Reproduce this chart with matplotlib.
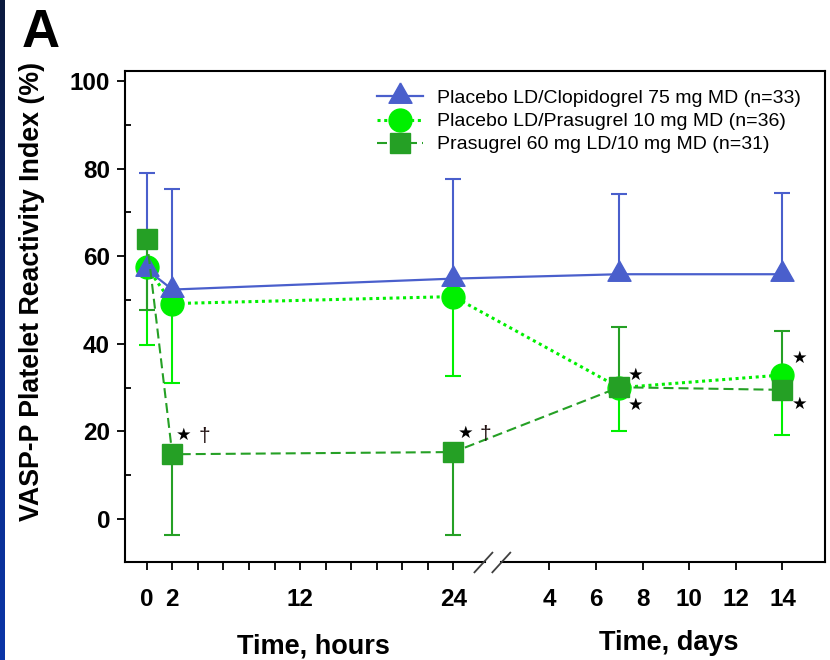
import numpy as np
import matplotlib
matplotlib.use("Agg")
import matplotlib.pyplot as plt
from matplotlib.colors import LinearSegmentedColormap

plt.rcParams['font.family'] = ['Liberation Sans', 'DejaVu Sans']

# ---------------- data ----------------
hour_times = [0, 2, 24]
day_times = [7, 14]

clop_mean = [57.0, 52.4, 54.9, 55.9, 55.9]
clop_upper = [79.1, 75.3, 77.6, 74.2, 74.4]

pras10_mean = [57.6, 49.2, 50.8, 30.0, 32.9]
pras10_lower = [39.7, 31.0, 32.6, 20.1, 19.3]

pras60_mean = [63.9, 14.8, 15.3, 30.1, 29.5]
pras60_bar_end = [47.7, -3.7, -3.7, 43.9, 42.9]

hour_ticks = list(range(0, 25, 2))
hour_labelled = [0, 2, 12, 24]
day_ticks = [4, 6, 8, 10, 12, 14]
y_major = [0, 20, 40, 60, 80, 100]
y_minor = [10, 30, 50, 70, 90]

legend_labels = ["Placebo LD/Clopidogrel 75 mg MD (n=33)",
                 "Placebo LD/Prasugrel 10 mg MD (n=36)",
                 "Prasugrel 60 mg LD/10 mg MD (n=31)"]

# ---------------- styles ----------------
BLUE = '#4a5fcc'
LIME = '#00f000'
DGREEN = '#25a025'

# broken axis: hours on the left, days on the right
DAY_ORIGIN = 31.52   # axis position of day 4
DAY_SCALE = 1.823    # axis units per day


def day_pos(d):
    return DAY_ORIGIN + (np.asarray(d, dtype=float) - 4) * DAY_SCALE


x = np.concatenate([np.asarray(hour_times, float), day_pos(day_times)])

fig = plt.figure(figsize=(8.3, 6.6), dpi=100)

# slide border on the left
bar_ax = fig.add_axes([0, 0, 4 / 830, 1])
grad = np.linspace(0, 1, 256).reshape(-1, 1)
cmap = LinearSegmentedColormap.from_list('b', ['#0b1a3e', '#0b2a80', '#0a35a8'])
bar_ax.imshow(grad, aspect='auto', cmap=cmap)
bar_ax.axis('off')

ax = fig.add_axes([125 / 830, 1 - 562 / 660, 700 / 830, 491 / 660])
ax.set_xlim(-1.70, 53.08)
ax.set_ylim(-9.8, 102.3)

tri = [(0, 2), (-1.7, -1), (1.7, -1), (0, 2)]


def bars(xv, start, end, color):
    ax.vlines(xv, start, end, colors=color, lw=1.5, zorder=2)
    ax.plot(xv, end, ls='none', marker='_', ms=12, mew=1.5, color=color, zorder=2)


bars(x, clop_mean, clop_upper, BLUE)
bars(x, pras10_mean, pras10_lower, LIME)
bars(x, pras60_mean, pras60_bar_end, DGREEN)

l_p10, = ax.plot(x, pras10_mean, color=LIME, lw=2.2, ls=(0, (1, 1.2)),
                 marker='o', ms=16.5, mec=LIME, mfc=LIME, zorder=3)
l_clop, = ax.plot(x, clop_mean, color=BLUE, lw=1.6, ls='-',
                  marker=tri, ms=19.5, mec=BLUE, mfc=BLUE, zorder=4)
l_p60, = ax.plot(x, pras60_mean, color=DGREEN, lw=1.5, ls=(0, (4.8, 2.4)),
                 marker='s', ms=15, mec=DGREEN, mfc=DGREEN, zorder=5)

# significance marks
star_kw = dict(textcoords='offset points', fontsize=12.5, color='black',
               family=['DejaVu Sans'], va='center', ha='center', zorder=6)
dag_kw = dict(textcoords='offset points', fontsize=15, color='#201010',
              va='center', ha='center', zorder=6)
for i in (1, 2):
    ax.annotate('\u2605', xy=(x[i], pras60_mean[i]), xytext=(8.5, 14), **star_kw)
    ax.annotate('\u2020', xy=(x[i], pras60_mean[i]), xytext=(23, 12.5), **dag_kw)
ax.annotate('\u2605', xy=(x[3], pras10_mean[3]), xytext=(12, 9), **star_kw)
ax.annotate('\u2605', xy=(x[3], pras60_mean[3]), xytext=(12, -13), **star_kw)
ax.annotate('\u2605', xy=(x[4], pras10_mean[4]), xytext=(12.5, 12), **star_kw)
ax.annotate('\u2605', xy=(x[4], pras60_mean[4]), xytext=(12.5, -10), **star_kw)

# ticks
xt = list(hour_ticks) + list(day_pos(day_ticks))
xl = [str(h) if h in hour_labelled else '' for h in hour_ticks] + [str(d) for d in day_ticks]
ax.set_xticks(xt)
ax.set_xticklabels(xl, fontsize=17.5, fontweight='bold')
ax.set_yticks(y_major)
ax.set_yticklabels([str(v) for v in y_major], fontsize=17.5, fontweight='bold')
ax.set_yticks(y_minor, minor=True)
ax.tick_params(axis='x', direction='out', length=5.8, width=1.3, pad=13)
ax.tick_params(axis='y', which='major', direction='out', length=5.8, width=1.3, pad=5)
ax.tick_params(axis='y', which='minor', direction='in', length=4.3, width=1.3)

for s in ('left', 'top', 'right'):
    ax.spines[s].set_linewidth(1.5)
ax.spines['bottom'].set_visible(False)

# broken bottom axis line
xt_tr = ax.get_xaxis_transform()
ax.plot([-1.70, 26.45], [0, 0], transform=xt_tr, color='black', lw=1.5, clip_on=False, zorder=6)
ax.plot([27.75, 53.08], [0, 0], transform=xt_tr, color='black', lw=1.5, clip_on=False, zorder=6)
for cx in (26.35, 27.75):
    ax.plot([cx - 0.7, cx + 0.7], [-0.021, 0.019], transform=xt_tr, color='#404040',
            lw=1.3, clip_on=False, zorder=6)

# legend
leg = ax.legend([l_clop, l_p10, l_p60], legend_labels, loc='upper left',
                bbox_to_anchor=(0.36, 0.962), frameon=False, fontsize=14,
                handlelength=2.37, handletextpad=0.72, labelspacing=0.28,
                borderpad=0, borderaxespad=0)

# texts
fig.text(31.7 / 830, 1 - 291 / 660, 'VASP-P Platelet Reactivity Index (%)', rotation=90,
         ha='center', va='center', fontsize=19.3, fontweight='bold')
fig.text(313 / 830, 1 - 653 / 660, 'Time, hours', ha='center', va='baseline',
         fontsize=19.5, fontweight='bold')
fig.text(669 / 830, 1 - 650 / 660, 'Time, days', ha='center', va='baseline',
         fontsize=19.5, fontweight='bold')
fig.text(22 / 830, 1 - 47 / 660, 'A', ha='left', va='baseline', fontsize=38,
         fontweight='bold')

fig.savefig('out.png', dpi=100)
